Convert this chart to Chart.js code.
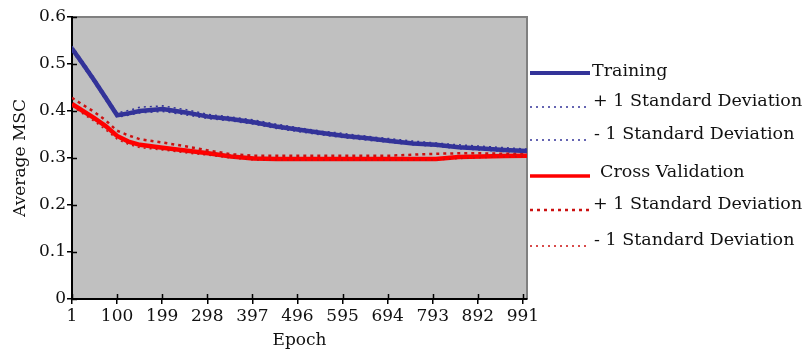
<!DOCTYPE html>
<html>
<head>
<meta charset="utf-8">
<script src="https://cdn.jsdelivr.net/npm/chart.js@4/dist/chart.umd.min.js"></script>
<style>
html,body{margin:0;padding:0;background:#fff;}
#wrap{position:relative;width:807px;height:354px;}
</style>
</head>
<body>
<div id="wrap"><canvas id="c" width="807" height="354"></canvas></div>
<script>
// ---- data ----
const epochs        = [1, 25, 50, 75, 100, 125, 150, 200, 250, 300, 350, 400, 450, 500, 550, 600, 650, 700, 750, 800, 850, 900, 950, 1000];
const training      = [0.533, 0.500, 0.465, 0.428, 0.391, 0.395, 0.400, 0.404, 0.397, 0.388, 0.383, 0.376, 0.367, 0.360, 0.353, 0.347, 0.342, 0.336, 0.331, 0.328, 0.323, 0.320, 0.317, 0.315];
const trainingPlus  = [0.538, 0.505, 0.470, 0.433, 0.396, 0.401, 0.408, 0.411, 0.403, 0.393, 0.387, 0.381, 0.372, 0.364, 0.357, 0.352, 0.346, 0.341, 0.336, 0.332, 0.328, 0.325, 0.322, 0.319];
const trainingMinus = [0.528, 0.495, 0.460, 0.423, 0.387, 0.391, 0.396, 0.399, 0.392, 0.384, 0.379, 0.372, 0.363, 0.356, 0.349, 0.343, 0.338, 0.333, 0.328, 0.325, 0.320, 0.317, 0.314, 0.312];
const crossVal      = [0.415, 0.400, 0.385, 0.368, 0.347, 0.335, 0.328, 0.322, 0.316, 0.310, 0.303, 0.299, 0.298, 0.298, 0.298, 0.298, 0.298, 0.298, 0.298, 0.298, 0.302, 0.303, 0.304, 0.305];
const crossPlus     = [0.428, 0.413, 0.398, 0.380, 0.358, 0.348, 0.340, 0.333, 0.325, 0.316, 0.308, 0.305, 0.305, 0.305, 0.305, 0.305, 0.305, 0.305, 0.307, 0.309, 0.310, 0.310, 0.309, 0.308];
const crossMinus    = [0.410, 0.394, 0.378, 0.360, 0.340, 0.329, 0.322, 0.317, 0.311, 0.306, 0.300, 0.296, 0.296, 0.296, 0.296, 0.296, 0.296, 0.296, 0.296, 0.296, 0.299, 0.301, 0.302, 0.303];
const seriesLabels  = ["Training", "+ 1 Standard Deviation", "- 1 Standard Deviation", "Cross Validation", "+ 1 Standard Deviation", "- 1 Standard Deviation"];
const xTickValues   = [1, 100, 199, 298, 397, 496, 595, 694, 793, 892, 991];
const yTickValues   = [0, 0.1, 0.2, 0.3, 0.4, 0.5, 0.6];
const xTitle = "Epoch";
const yTitle = "Average MSC";

const NAVY = '#333399', RED = '#FF0000', DRED = '#CC1111';
const FONT = 'DejaVu Serif';

function pts(arr){ return arr.map((v,i)=>({x:epochs[i], y:v})); }

const datasets = [
  {label: seriesLabels[0], data: pts(training),      borderColor: NAVY, borderWidth: 4.5, order: 2},
  {label: seriesLabels[1], data: pts(trainingPlus),  borderColor: NAVY, borderWidth: 1.5, borderDash: [2,4], order: 1},
  {label: seriesLabels[2], data: pts(trainingMinus), borderColor: NAVY, borderWidth: 1.5, borderDash: [2,4], order: 1},
  {label: seriesLabels[3], data: pts(crossVal),      borderColor: RED,  borderWidth: 4.5, order: 2},
  {label: seriesLabels[4], data: pts(crossPlus),     borderColor: DRED, borderWidth: 2.5, borderDash: [3,4], order: 1},
  {label: seriesLabels[5], data: pts(crossMinus),    borderColor: DRED, borderWidth: 1.5, borderDash: [2,4], order: 1}
].map(d => Object.assign({pointRadius: 0, fill: false, tension: 0}, d));

// legend layout (style only)
const legendLayout = [
  {lineY: 73,  textX: 592, textY: 71,  lw: 4},
  {lineY: 107, textX: 593, textY: 101, lw: 1.5},
  {lineY: 140, textX: 594, textY: 134, lw: 1.5},
  {lineY: 176, textX: 600, textY: 172, lw: 3.5},
  {lineY: 210, textX: 593, textY: 204, lw: 2.5},
  {lineY: 246, textX: 594, textY: 240, lw: 1.5}
];

const bgPlugin = {
  id: 'plotBg',
  beforeDraw(chart){
    const {ctx, chartArea: a} = chart;
    ctx.save();
    ctx.fillStyle = '#C0C0C0';
    ctx.fillRect(a.left, a.top, a.right - a.left, a.bottom - a.top);
    ctx.strokeStyle = '#808080';
    ctx.lineWidth = 2;
    ctx.beginPath();
    ctx.moveTo(a.left, a.top); ctx.lineTo(a.right, a.top); ctx.lineTo(a.right, a.bottom);
    ctx.stroke();
    ctx.restore();
  },
  afterDraw(chart){
    const {ctx, chartArea: a, scales} = chart;
    ctx.save();
    ctx.strokeStyle = '#000'; ctx.lineWidth = 1.5;
    ctx.beginPath();
    xTickValues.forEach(v => { const x = Math.round(scales.x.getPixelForValue(v)) + 0.5; ctx.moveTo(x, a.bottom); ctx.lineTo(x, a.bottom - 5); });
    yTickValues.forEach(v => { const y = Math.round(scales.y.getPixelForValue(v)) + 0.5; ctx.moveTo(a.left, y); ctx.lineTo(a.left + 5, y); });
    ctx.stroke();
    ctx.font = '17.5px "' + FONT + '"';
    ctx.textBaseline = 'middle';
    ctx.textAlign = 'left';
    chart.data.datasets.forEach((ds, i) => {
      const L = legendLayout[i];
      ctx.strokeStyle = ds.borderColor;
      ctx.lineWidth = L.lw;
      ctx.setLineDash(ds.borderDash || []);
      ctx.beginPath(); ctx.moveTo(530, L.lineY); ctx.lineTo(590, L.lineY); ctx.stroke();
      ctx.setLineDash([]);
      ctx.fillStyle = '#111';
      ctx.fillText(ds.label, L.textX, L.textY);
    });
    ctx.restore();
  }
};

new Chart(document.getElementById('c'), {
  type: 'line',
  data: {datasets},
  plugins: [bgPlugin],
  options: {
    responsive: false,
    animation: false,
    events: [],
    layout: {padding: {top: 17, right: 280, left: 0, bottom: 0}},
    plugins: {legend: {display: false}, tooltip: {enabled: false}},
    scales: {
      x: {
        type: 'linear', min: 1, max: 1000,
        afterBuildTicks: s => { s.ticks = xTickValues.map(v => ({value: v})); },
        afterFit: s => { s.height = 55; },
        ticks: {autoSkip: false, maxRotation: 0, padding: 2, color: '#111', font: {family: FONT, size: 17}, callback: v => String(v)},
        grid: {drawOnChartArea: false, tickLength: 5, color: '#000', lineWidth: 1.5},
        border: {color: '#000', width: 2},
        title: {display: true, text: xTitle, color: '#111', font: {family: FONT, size: 17}, padding: {top: 4, bottom: 3}}
      },
      y: {
        min: 0, max: 0.6,
        afterBuildTicks: s => { s.ticks = yTickValues.map(v => ({value: v})); },
        afterFit: s => { s.width = 72; },
        ticks: {padding: 1, color: '#111', font: {family: FONT, size: 17}, callback: v => v === 0 ? '0' : v.toFixed(1)},
        grid: {drawOnChartArea: false, tickLength: 5, color: '#000', lineWidth: 1.5},
        border: {color: '#000', width: 2},
        title: {display: true, text: yTitle, color: '#111', font: {family: FONT, size: 17}, padding: {top: 10, bottom: 0}}
      }
    }
  }
});
</script>
</body>
</html>
